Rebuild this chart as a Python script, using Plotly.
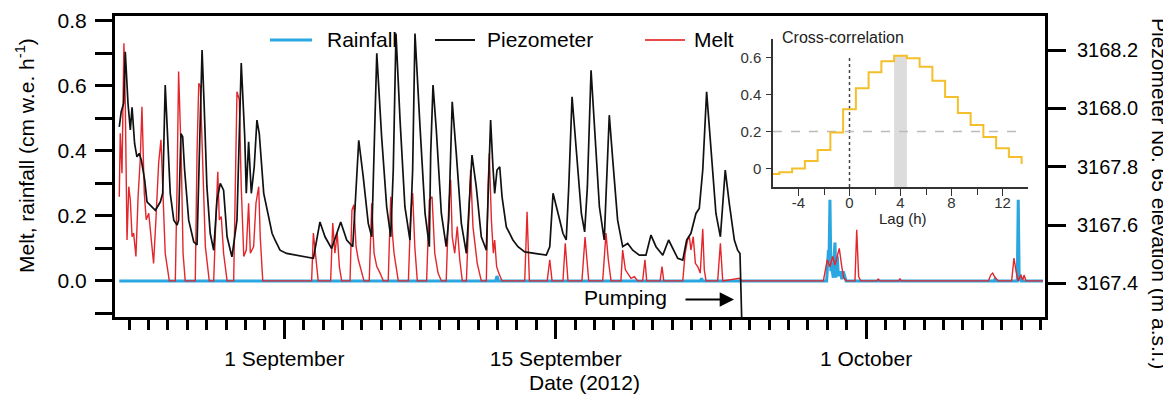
import pandas as pd
import plotly.graph_objects as go

# ---------------- data (time = days since 2012-08-01 00:00) ----------------
piezo_t = [22.49, 22.59, 22.72, 22.80, 22.94, 23.06, 23.15, 23.28, 23.40, 23.52,
           23.63, 23.80, 23.92, 24.09, 24.35, 24.61, 24.73, 24.86, 25.00, 25.12,
           25.30, 25.47, 25.55, 25.67, 25.76, 25.86, 26.07, 26.33, 26.50, 26.62,
           26.76, 26.87, 27.01, 27.18, 27.36, 27.53, 27.70, 27.87, 28.05, 28.30,
           28.56, 28.78, 28.96, 29.04, 29.16, 29.30, 29.45, 29.59, 29.71, 29.94,
           30.11, 30.37, 30.52, 30.78, 31.12, 31.64, 31.98, 32.50, 32.84, 33.10,
           33.44, 33.70, 33.91, 34.22, 34.53, 34.65, 34.84, 35.07, 35.33, 35.51,
           35.63, 35.77, 36.02, 36.28, 36.49, 36.62, 36.76, 36.97, 37.22, 37.48,
           37.62, 37.74, 38.00, 38.26, 38.48, 38.55, 38.67, 38.84, 39.10, 39.35,
           39.48, 39.66, 39.87, 40.13, 40.39, 40.51, 40.68, 40.90, 41.16, 41.42,
           41.54, 41.64, 41.76, 41.85, 41.97, 42.11, 42.23, 42.45, 42.79, 43.05,
           43.40, 43.91, 44.51, 44.69, 44.86, 45.12, 45.37, 45.54, 45.67, 45.84,
           46.06, 46.32, 46.49, 46.63, 46.82, 47.04, 47.25, 47.50, 47.64, 47.76,
           47.94, 48.19, 48.45, 48.71, 48.97, 49.31, 49.65, 49.91, 50.17, 50.52,
           50.82, 51.06, 51.29, 51.55, 51.75, 51.97, 52.23, 52.40, 52.58, 52.78,
           53.01, 53.26, 53.49, 53.61, 53.74, 53.95, 54.21, 54.38, 54.50, 54.60]
piezo_elev = [3167.937, 3167.989, 3168.018, 3168.194, 3168.018, 3167.926, 3168.004, 3167.880, 3167.834, 3167.846,
              3167.823, 3167.754, 3167.680, 3167.669, 3167.651, 3167.680, 3167.709, 3168.080, 3167.868, 3167.709,
              3167.617, 3167.600, 3167.617, 3167.914, 3167.903, 3167.789, 3167.617, 3167.543, 3167.532, 3167.846,
              3168.200, 3168.006, 3167.731, 3167.572, 3167.514, 3167.686, 3167.743, 3167.720, 3167.560, 3167.491,
              3167.617, 3168.156, 3167.903, 3167.709, 3167.886, 3167.709, 3167.800, 3167.960, 3167.914, 3167.709,
              3167.651, 3167.572, 3167.549, 3167.514, 3167.503, 3167.497, 3167.491, 3167.486, 3167.611, 3167.560,
              3167.520, 3167.572, 3167.611, 3167.549, 3167.526, 3167.663, 3167.891, 3167.766, 3167.606, 3167.560,
              3167.846, 3168.189, 3167.903, 3167.663, 3167.560, 3167.789, 3168.257, 3167.960, 3167.663, 3167.549,
              3167.789, 3168.257, 3167.937, 3167.640, 3167.526, 3167.846, 3168.080, 3167.926, 3167.640, 3167.526,
              3167.617, 3168.023, 3167.846, 3167.606, 3167.503, 3167.640, 3167.840, 3167.731, 3167.560, 3167.514,
              3167.754, 3167.960, 3167.800, 3167.709, 3167.789, 3167.800, 3167.697, 3167.594, 3167.549, 3167.526,
              3167.508, 3167.503, 3167.497, 3167.526, 3167.709, 3167.640, 3167.572, 3167.549, 3167.731, 3168.040,
              3167.868, 3167.640, 3167.577, 3167.731, 3168.131, 3167.903, 3167.663, 3167.549, 3167.789, 3167.977,
              3167.823, 3167.617, 3167.526, 3167.537, 3167.514, 3167.497, 3167.497, 3167.566, 3167.526, 3167.497,
              3167.549, 3167.514, 3167.486, 3167.480, 3167.549, 3167.572, 3167.640, 3167.657, 3167.789, 3168.057,
              3167.846, 3167.640, 3167.560, 3167.663, 3167.789, 3167.674, 3167.549, 3167.514, 3167.503, 3167.250]

melt_t = [22.49, 22.54, 22.63, 22.73, 22.80, 22.89, 22.98, 23.06, 23.15, 23.23,
          23.35, 23.46, 23.57, 23.66, 23.78, 23.88, 24.01, 24.14, 24.26, 24.38,
          24.52, 24.64, 24.73, 24.86, 25.07, 25.38, 25.47, 25.55, 25.69, 25.78,
          25.89, 26.41, 26.50, 26.59, 26.67, 26.76, 26.93, 27.13, 27.36, 27.44,
          27.57, 27.65, 27.75, 27.87, 28.05, 28.39, 28.51, 28.56, 28.68, 28.78,
          28.91, 29.04, 29.16, 29.25, 29.42, 29.54, 29.68, 29.76, 29.89, 32.41,
          32.50, 32.62, 32.75, 33.39, 33.50, 33.61, 33.73, 33.84, 33.96, 34.39,
          34.49, 34.59, 34.70, 34.82, 34.94, 35.11, 35.38, 35.51, 35.63, 35.77,
          35.94, 36.11, 36.36, 36.49, 36.59, 36.66, 36.88, 37.40, 37.52, 37.62,
          37.73, 37.86, 38.34, 38.48, 38.62, 38.76, 38.93, 39.10, 39.35, 39.48,
          39.58, 39.66, 39.79, 39.92, 40.05, 40.18, 40.39, 40.51, 40.61, 40.73,
          40.82, 40.95, 41.16, 41.42, 41.51, 41.57, 41.68, 41.78, 41.85, 41.95,
          42.06, 42.23, 43.40, 43.52, 43.64, 44.56, 44.69, 44.81, 45.37, 45.49,
          45.63, 46.35, 46.51, 46.70, 47.42, 47.59, 47.71, 47.85, 48.36, 48.45,
          48.59, 48.71, 48.88, 49.05, 49.23, 49.48, 49.60, 49.69, 50.38, 50.48,
          50.57, 51.55, 51.67, 51.80, 51.89, 51.97, 52.09, 52.20, 52.32, 52.45,
          52.58, 52.66, 52.75, 53.35, 53.49, 53.61, 54.47, 54.60, 58.80, 58.89,
          59.00, 59.14, 59.28, 59.40, 59.52, 59.62, 59.75, 59.86, 60.00, 60.43,
          60.52, 60.62, 60.73, 61.55, 61.63, 61.72, 62.67, 62.75, 62.83, 67.31,
          67.43, 67.53, 67.65, 67.82, 68.51, 68.63, 68.74, 68.85, 68.98, 69.08,
          69.15, 69.25, 70.13]
melt_v = [0.259, 0.454, 0.331, 0.731, 0.547, 0.126, 0.290, 0.249, 0.136, 0.147,
          0.075, 0.259, 0.372, 0.536, 0.270, 0.188, 0.208, 0.136, 0.054, 0.188,
          0.362, 0.434, 0.290, 0.085, 0.0, 0.0, 0.290, 0.644, 0.372, 0.085,
          0.0, 0.0, 0.393, 0.608, 0.598, 0.413, 0.106, 0.0, 0.0, 0.136,
          0.336, 0.188, 0.198, 0.085, 0.0, 0.0, 0.393, 0.582, 0.557, 0.290,
          0.075, 0.095, 0.239, 0.085, 0.106, 0.239, 0.290, 0.136, 0.0, 0.0,
          0.147, 0.065, 0.0, 0.0, 0.178, 0.085, 0.147, 0.044, 0.0, 0.0,
          0.218, 0.234, 0.106, 0.065, 0.034, 0.0, 0.0, 0.239, 0.085, 0.044,
          0.024, 0.0, 0.0, 0.259, 0.136, 0.085, 0.0, 0.0, 0.208, 0.270,
          0.106, 0.0, 0.0, 0.249, 0.259, 0.085, 0.024, 0.0, 0.0, 0.229,
          0.311, 0.136, 0.085, 0.167, 0.065, 0.0, 0.0, 0.188, 0.342, 0.167,
          0.126, 0.054, 0.0, 0.0, 0.290, 0.393, 0.188, 0.085, 0.126, 0.044,
          0.024, 0.0, 0.0, 0.213, 0.0, 0.0, 0.065, 0.0, 0.0, 0.116,
          0.0, 0.0, 0.135, 0.0, 0.0, 0.147, 0.065, 0.0, 0.0, 0.095,
          0.034, 0.024, 0.008, 0.013, 0.0, 0.0, 0.065, 0.0, 0.0, 0.044,
          0.0, 0.0, 0.085, 0.126, 0.136, 0.095, 0.136, 0.054, 0.044, 0.024,
          0.160, 0.034, 0.0, 0.0, 0.116, 0.0, 0.008, 0.0, 0.0, 0.029,
          0.065, 0.044, 0.075, 0.049, 0.075, 0.100, 0.044, 0.008, 0.0, 0.0,
          0.157, 0.013, 0.0, 0.0, 0.006, 0.0, 0.0, 0.006, 0.0, 0.0,
          0.018, 0.024, 0.011, 0.0, 0.0, 0.070, 0.029, 0.0, 0.018, 0.003,
          0.018, 0.0, 0.0]

rain_t = [22.49, 41.90, 41.97, 42.05, 52.45, 52.52, 52.58, 58.97, 59.06, 59.09,
          59.14, 59.19, 59.23, 59.31, 59.36, 59.40, 59.45, 59.52, 59.57, 59.62,
          59.70, 59.75, 59.83, 59.97, 67.60, 67.65, 67.70, 68.80, 68.85, 68.90,
          68.95, 69.00, 70.13]
rain_v = [0.0, 0.0, 0.015, 0.0, 0.0, 0.008, 0.0, 0.0, 0.095, 0.060,
          0.250, 0.030, 0.044, 0.010, 0.080, 0.118, 0.010, 0.075, 0.020, 0.016,
          0.030, 0.005, 0.029, 0.0, 0.0, 0.005, 0.0, 0.0, 0.250, 0.0,
          0.020, 0.0, 0.0]

# cross-correlation inset
xc_lag = [-6, -5, -4, -3, -2, -1, 0, 1, 2, 3, 4, 5, 6, 7, 8, 9, 10, 11, 12, 13]
xc_val = [-0.03, -0.02, 0.00, 0.04, 0.10, 0.195, 0.32, 0.434, 0.52, 0.58,
          0.61, 0.596, 0.55, 0.475, 0.386, 0.30, 0.235, 0.17, 0.11, 0.062]
xc_last_edge = 13.5
xc_last_val = 0.025

date_ticks = ["2012-09-01", "2012-09-15", "2012-10-01"]
date_ticktext = ["1 September", "15 September", "1 October"]
left_ticks = [0.0, 0.2, 0.4, 0.6, 0.8]
right_ticks = [3167.4, 3167.6, 3167.8, 3168.0, 3168.2]
lag_ticks = [-4, 0, 4, 8, 12]
lag_ticktext = ["-4", "0", "4", "8", "12"]
xc_ticks = [0, 0.2, 0.4, 0.6]
xc_ticktext = ["0", "0.2", "0.4", "0.6"]

# ---------------- helpers ----------------
BASE = pd.Timestamp("2012-08-01")


def to_dates(days):
    return BASE + pd.to_timedelta(pd.Series(days, dtype=float), unit="D")


# page body has an 8px margin: the figure is drawn 8px in from the top-left
OFF = 8
W, H = 1171 - OFF, 397 - OFF
L, R, T, B = 115, 1045, 16, 317   # plot area in window pixels


def px(x):
    return (x - L) / (R - L)


def py(y):
    return (B - y) / (B - T)


BLUE = "#2AA7E0"
RED = "#E3262B"
BLACK = "#111111"
GOLD = "#F4BF2A"
FONT = "Liberation Sans, Arial, sans-serif"

fig = go.Figure()
fig.add_trace(go.Scatter(x=to_dates(rain_t), y=rain_v, mode="lines", name="Rainfall",
                         line=dict(color=BLUE, width=3), showlegend=False,
                         xaxis="x", yaxis="y"))
fig.add_trace(go.Scatter(x=to_dates(melt_t), y=melt_v, mode="lines", name="Melt",
                         line=dict(color=RED, width=1.4), showlegend=False,
                         xaxis="x", yaxis="y"))
fig.add_trace(go.Scatter(x=to_dates(piezo_t), y=piezo_elev, mode="lines", name="Piezometer",
                         line=dict(color=BLACK, width=1.7), showlegend=False,
                         xaxis="x", yaxis="y2"))

# step curve: each lag value spans [lag-0.5, lag+0.5]
step_x = [xc_lag[0]] + [l - 0.5 for l in xc_lag[1:]] + [xc_last_edge]
step_y = list(xc_val) + [xc_last_val]
fig.add_trace(go.Scatter(x=step_x, y=step_y, mode="lines", line_shape="hv",
                         line=dict(color=GOLD, width=2), showlegend=False,
                         xaxis="x3", yaxis="y3"))

daily0 = "2012-08-24"
fig.update_layout(
    width=W, height=H,
    margin=dict(l=L - OFF, r=(W + OFF) - R, t=T - OFF, b=(H + OFF) - B, pad=0),
    paper_bgcolor="white", plot_bgcolor="white",
    font=dict(family=FONT, color="black", size=21),
    showlegend=False,
    xaxis=dict(
        type="date", domain=[0, 1], anchor="y",
        range=[BASE + pd.Timedelta(days=22.27), BASE + pd.Timedelta(days=70.23)],
        tickmode="array", tickvals=date_ticks, ticktext=date_ticktext,
        ticks="outside", ticklen=19, tickwidth=2.5, tickcolor="black",
        tickfont=dict(size=21), ticklabelstandoff=2,
        minor=dict(tickmode="linear", tick0=daily0, dtick=86400000, ticks="outside",
                   ticklen=10, tickwidth=2.5, tickcolor="black", showgrid=False),
        showline=True, linewidth=3, linecolor="black", mirror=True,
        showgrid=False, zeroline=False, automargin=False,
    ),
    yaxis=dict(
        domain=[0, 1], anchor="x", range=[-0.111, 0.815],
        tickmode="array", tickvals=left_ticks, tickformat=".1f",
        ticks="outside", ticklen=17, tickwidth=2.5, tickcolor="black",
        tickfont=dict(size=21), ticklabelstandoff=4,
        minor=dict(tickmode="linear", tick0=-0.1, dtick=0.2, ticks="outside",
                   ticklen=17, tickwidth=2.5, tickcolor="black", showgrid=False),
        showline=True, linewidth=3, linecolor="black",
        showgrid=False, zeroline=False, automargin=False,
    ),
    yaxis2=dict(
        overlaying="y", side="right", anchor="x", range=[3167.285, 3168.317],
        tickmode="array", tickvals=right_ticks, tickformat=".1f",
        ticks="outside", ticklen=18, tickwidth=2.5, tickcolor="black",
        tickfont=dict(size=20), ticklabelstandoff=7,
        showline=True, linewidth=3, linecolor="black",
        showgrid=False, zeroline=False, automargin=False,
    ),
    xaxis3=dict(
        domain=[px(773), px(1028)], anchor="y3", range=[-6, 14],
        tickmode="array", tickvals=lag_ticks, ticktext=lag_ticktext,
        ticks="outside", ticklen=7, tickwidth=1.3, tickcolor="#333",
        tickfont=dict(size=15, color="#333"), ticklabelstandoff=-6,
        minor=dict(tickmode="array", tickvals=[-2, 2, 6, 10], ticks="outside",
                   ticklen=6, tickwidth=1.3, tickcolor="#333", showgrid=False),
        showline=True, linewidth=1.5, linecolor="#333",
        showgrid=False, zeroline=False, automargin=False,
    ),
    yaxis3=dict(
        domain=[py(187), py(39)], anchor="x3", range=[-0.1, 0.7],
        tickmode="array", tickvals=xc_ticks, ticktext=xc_ticktext,
        ticks="outside", ticklen=5, tickwidth=1.3, tickcolor="#333",
        tickfont=dict(size=15, color="#333"), ticklabelstandoff=2,
        showline=True, linewidth=1.5, linecolor="#333",
        showgrid=False, zeroline=False, automargin=False,
    ),
)

shapes = [
    # inset: shaded peak lag band, 0-lag dotted line, 0.2 dashed threshold
    dict(type="rect", xref="x3", yref="y3", x0=3.5, x1=4.5, y0=-0.1, y1=0.612,
         fillcolor="#DCDCDC", line=dict(width=0), layer="below"),
    dict(type="line", xref="x3", yref="y3", x0=0, x1=0, y0=-0.1, y1=0.6,
         line=dict(color="#444", width=1.5, dash="dot"), layer="below"),
    dict(type="line", xref="x3", yref="y3", x0=-6, x1=13.6, y0=0.2, y1=0.2,
         line=dict(color="#BBBBBB", width=1.5, dash="dash"), layer="below"),
    # legend swatches
    dict(type="line", xref="paper", yref="paper", x0=px(270), x1=px(312), y0=py(40), y1=py(40),
         line=dict(color=BLUE, width=3)),
    dict(type="line", xref="paper", yref="paper", x0=px(435), x1=px(475), y0=py(40), y1=py(40),
         line=dict(color=BLACK, width=2)),
    dict(type="line", xref="paper", yref="paper", x0=px(645), x1=px(685), y0=py(40), y1=py(40),
         line=dict(color="#E84A4A", width=2)),
]
fig.update_layout(shapes=shapes)

ann = [
    dict(text="Rainfall", x=px(325), y=py(40), xanchor="left", yanchor="middle", font=dict(size=21)),
    dict(text="Piezometer", x=px(485), y=py(40), xanchor="left", yanchor="middle", font=dict(size=21)),
    dict(text="Melt", x=px(692), y=py(40), xanchor="left", yanchor="middle", font=dict(size=21)),
    dict(text="Pumping", x=px(582), y=py(297), xanchor="left", yanchor="middle", font=dict(size=21)),
    dict(text="", x=px(734), y=py(299.5), ax=-50, ay=0, showarrow=True, arrowhead=2,
         arrowsize=1.3, arrowwidth=2.2, arrowcolor="black"),
    dict(text="Date (2012)", x=px(584), y=py(382), xanchor="center", yanchor="middle", font=dict(size=21)),
    dict(text="Melt, rainfall (cm w.e. h<sup>-1</sup>)", x=px(25), y=py(156), textangle=-90,
         xanchor="center", yanchor="middle", font=dict(size=21)),
    dict(text="Piezometer No. 65 elevation (m a.s.l.)", x=px(1160), y=py(193), textangle=90,
         xanchor="center", yanchor="middle", font=dict(size=21)),
    dict(text="Cross-correlation", x=px(780), y=py(37), xanchor="left", yanchor="middle",
         font=dict(size=16, color="#222")),
    dict(text="Lag (h)", x=px(903), y=py(218), xanchor="center", yanchor="middle",
         font=dict(size=15, color="#222")),
]
for a in ann:
    a.setdefault("xref", "paper")
    a.setdefault("yref", "paper")
    a.setdefault("showarrow", False)
fig.update_layout(annotations=ann)

fig.write_html("out.html")
